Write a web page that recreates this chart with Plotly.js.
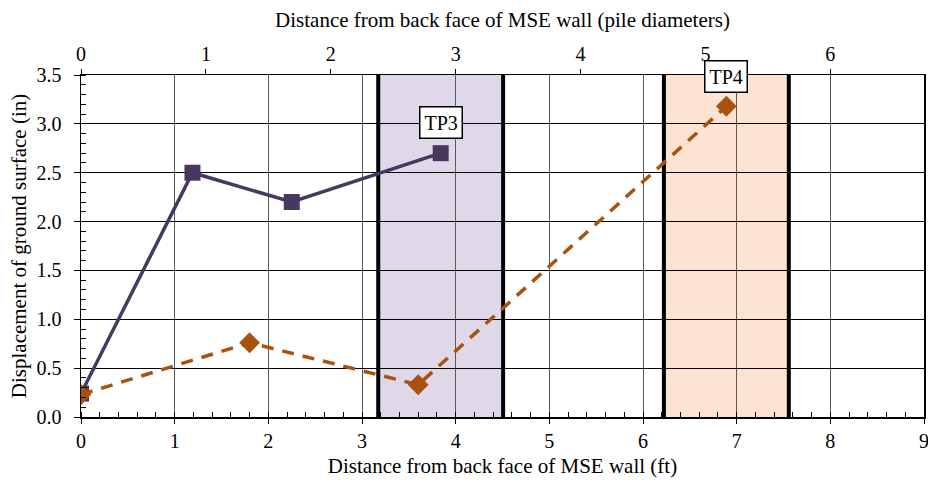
<!DOCTYPE html>
<html>
<head>
<meta charset="utf-8">
<script src="https://cdn.plot.ly/plotly-3.0.1.min.js"></script>
<style>html,body{margin:0;padding:0;background:#fff;}#chart{width:928px;height:485px;}</style>
</head>
<body>
<div id="chart"></div>
<script>
// Distance from back face of MSE wall (ft) and displacement (in)
const tp3Dist = [0, 1.19, 2.25, 3.84];
const tp3Disp = [0.24, 2.5, 2.2, 2.7];
const tp4Dist = [0, 1.80, 3.60, 6.89];
const tp4Disp = [0.23, 0.76, 0.33, 3.18];
const pileLabels = ['TP3', 'TP4'];
const pileCenters = [3.84, 6.89];   // ft
const pileLabelY = [3.01, 3.48];
const pileDiameterFt = 16 / 12;      // 16-in pile
const xMaxFt = 9;
const pileFills = ['#ded8e9', '#fde4d2'];

const font = 'Liberation Serif, Times New Roman, serif';
const tickSize = 20, titleSize = 21;

const traces = [
  {x: tp3Dist, y: tp3Disp, mode: 'lines+markers', type: 'scatter',
   line: {color: '#48385f', width: 3.5}, marker: {symbol: 'square', size: 16, color: '#48385f'}},
  {x: tp4Dist, y: tp4Disp, mode: 'lines+markers', type: 'scatter',
   line: {color: '#a9520f', width: 3.5, dash: '12px,9px'}, marker: {symbol: 'diamond', size: 16, color: '#a9520f'}},
  {x: [], y: [], xaxis: 'x2', type: 'scatter', mode: 'markers', showlegend: false}
];

const shapes = [];
pileCenters.forEach((c, i) => {
  const x0 = c - pileDiameterFt / 2, x1 = c + pileDiameterFt / 2;
  shapes.push({type: 'rect', xref: 'x', yref: 'paper', x0: x0, x1: x1, y0: 0, y1: 1,
    fillcolor: pileFills[i], line: {width: 0}, layer: 'below'});
  [x0, x1].forEach(xx => shapes.push({type: 'line', xref: 'x', yref: 'paper', x0: xx, x1: xx, y0: 0, y1: 1,
    line: {color: '#000', width: 4}, layer: 'between'}));
});

const annotations = pileLabels.map((t, i) => ({
  x: pileCenters[i], y: pileLabelY[i], xref: 'x', yref: 'y', text: t, showarrow: false,
  font: {family: font, size: tickSize, color: '#000'}, bgcolor: '#fff', bordercolor: '#000',
  borderwidth: 1.5, borderpad: 4, xanchor: 'center', yanchor: 'middle'
}));

const layout = {
  width: 928, height: 485,
  margin: {l: 81, r: 4, t: 75, b: 68},
  paper_bgcolor: '#fff', plot_bgcolor: '#fff',
  showlegend: false,
  font: {family: font, size: tickSize, color: '#000'},
  xaxis: {
    range: [0, xMaxFt], dtick: 1, tick0: 0, ticklabeloverflow: 'allow',
    showgrid: true, gridcolor: '#5a5a5a', gridwidth: 1,
    zeroline: false, showline: true, linecolor: '#000', linewidth: 1.5,
    ticks: 'outside', ticklen: 5, tickcolor: '#000',
    minor: {ticks: 'inside', dtick: 0.2, ticklen: 5, tickcolor: '#000', showgrid: false},
    tickfont: {family: font, size: tickSize, color: '#000'},
    title: {text: 'Distance from back face of MSE wall (ft)', font: {family: font, size: titleSize, color: '#000'}, standoff: 8}
  },
  xaxis2: {
    overlaying: 'x', side: 'top', anchor: 'y',
    range: [0, xMaxFt / pileDiameterFt], dtick: 1, tick0: 0,
    showgrid: false, zeroline: false, showline: true, linecolor: '#000', linewidth: 1.5,
    ticks: 'outside', ticklen: 5, tickcolor: '#000',
    tickfont: {family: font, size: tickSize, color: '#000'},
    title: {text: 'Distance from back face of MSE wall (pile diameters)', font: {family: font, size: titleSize, color: '#000'}, standoff: 9}
  },
  yaxis: {
    range: [0, 3.5], dtick: 0.5, tick0: 0, tickformat: '.1f', ticklabelstandoff: 8,
    showgrid: true, gridcolor: '#000', gridwidth: 1,
    zeroline: false, showline: true, mirror: true, linecolor: '#000', linewidth: 1.5,
    ticks: 'outside', ticklen: 6, tickcolor: '#000',
    minor: {ticks: 'inside', dtick: 0.1, ticklen: 5, tickcolor: '#000', showgrid: false},
    tickfont: {family: font, size: tickSize, color: '#000'},
    title: {text: 'Displacement of ground surface (in)', font: {family: font, size: titleSize, color: '#000'}, standoff: 4}
  },
  shapes: shapes,
  annotations: annotations
};

Plotly.newPlot('chart', traces, layout, {displayModeBar: false, staticPlot: true});
</script>
</body>
</html>
